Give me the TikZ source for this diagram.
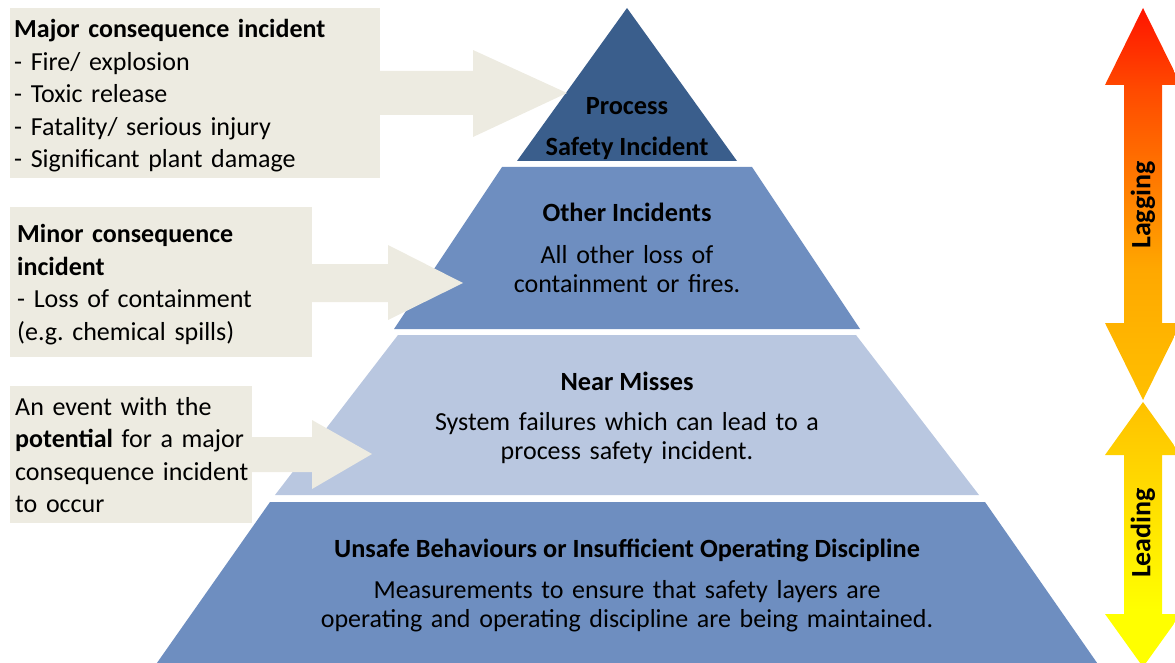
\documentclass[tikz,border=0pt]{standalone}
\usepackage{fontspec}
\setmainfont{Carlito}
\frenchspacing
\definecolor{boxbeige}{HTML}{EDEBE1}
\definecolor{topblue}{HTML}{3A5E8C}
\definecolor{midblue}{HTML}{6E8EC0}
\definecolor{paleblue}{HTML}{B9C7E0}
\definecolor{lagred}{RGB}{255,20,0}
\definecolor{lagredorange}{RGB}{255,74,0}
\definecolor{lagorange}{RGB}{255,168,0}
\definecolor{midamber}{RGB}{255,192,0}
\definecolor{leadyellow}{RGB}{255,255,0}
\pgfdeclareverticalshading{lagleadshade}{100bp}{color(0bp)=(leadyellow); color(29.3bp)=(leadyellow);
  color(45.3bp)=(midamber); color(55.1bp)=(lagorange); color(68.8bp)=(lagredorange);
  color(75bp)=(lagred); color(100bp)=(lagred)}
\tikzset{
  note/.style={anchor=base west, inner sep=0pt, text width=400pt, align=left,
    font=\fontsize{26}{32.5}\selectfont},
  tiertitle/.style={anchor=base, inner sep=0pt, font=\fontsize{26.3}{28}\selectfont\bfseries},
  tierbody/.style={anchor=base, inner sep=0pt, text width=700pt, align=center,
    font=\fontsize{26}{29.5}\selectfont},
  sidelabel/.style={rotate=90, inner sep=0pt, font=\fontsize{28}{30}\selectfont\bfseries},
}
\begin{document}
\begin{tikzpicture}[x=1pt,y=-1pt]
	\useasboundingbox (0,0) rectangle (1175,663);
	\clip (0,0) rectangle (1175,663);
	% pyramid tiers
	\coordinate (apex) at (627,8);
	\fill [topblue] (apex) -- (737,161) -- (517,161) -- cycle;
	\fill [midblue] (502,167) -- (752,167) -- (860,329) -- (394,329) -- cycle;
	\fill [paleblue] (398,335) -- (856,335) -- (979,495) -- (275,495) -- cycle;
	\fill [midblue] (270,502) -- (985,502) -- (1102,670) -- (152,670) -- cycle;
	% side boxes
	\fill [boxbeige] (10,8) rectangle (380,178);
	\fill [boxbeige] (10,207) rectangle (312,357);
	\fill [boxbeige] (10,386) rectangle (252,523);
	% block arrows into the tiers
	\coordinate (tipA) at (567,93);
	\coordinate (tipB) at (463,283);
	\coordinate (tipC) at (372,454);
	\fill [boxbeige] (379,71) -- (473,71) -- (473,50) -- (tipA) -- (473,137) -- (473,115) -- (379,115) -- cycle;
	\fill [boxbeige] (311,264) -- (388,264) -- (388,245) -- (tipB) -- (388,320) -- (388,302) -- (311,302) -- cycle;
	\fill [boxbeige] (251,437) -- (312,437) -- (312,420) -- (tipC) -- (312,489) -- (312,472) -- (251,472) -- cycle;
	% lagging / leading arrows
	\shade [shading=lagleadshade]
		(1143,8) -- (1181,85) -- (1162,85) -- (1162,323) -- (1181,323) -- (1143,400)
		-- (1105,323) -- (1124,323) -- (1124,85) -- (1105,85) -- cycle
		(1143,402) -- (1181,455) -- (1162,455) -- (1162,614) -- (1181,614) -- (1143,667)
		-- (1105,614) -- (1124,614) -- (1124,455) -- (1105,455) -- cycle;
	\node [sidelabel] (lag) at (1143,205) {Lagging};
	\node [sidelabel] (lead) at (1143,533) {Leading};
	% tier texts
	\node [tiertitle] (psi1) at (627,115) {Process};
	\node [tiertitle] (psi2) at (627,156) {Safety Incident};
	\node [tiertitle] (other) at (627,222) {Other Incidents};
	\node [tierbody] (otherb) at (627,263) {All other loss of\\containment or fires.};
	\node [tiertitle] (near) at (627,390) {Near Misses};
	\node [tierbody] (nearb) at (627,430) {System failures which can lead to a\\process safety incident.};
	\node [tiertitle] (unsafe) at (627,557) {Unsafe Behaviours or Insufficient Operating Discipline};
	\node [tierbody] (unsafeb) at (627,598) {Measurements to ensure that safety layers are\\operating and operating discipline are being maintained.};
	% box texts
	\node [note] (major) at (14,38) {\textbf{Major consequence incident}\\- Fire/ explosion\\- Toxic release\\- Fatality/ serious injury\\- Significant plant damage};
	\node [note] (minor) at (17,243) {\textbf{Minor consequence}\\\textbf{incident}\\- Loss of containment\\(e.g. chemical spills)};
	\node [note] (event) at (15,415) {An event with the\\\textbf{potential} for a major\\consequence incident\\to occur};
\end{tikzpicture}
\end{document}
